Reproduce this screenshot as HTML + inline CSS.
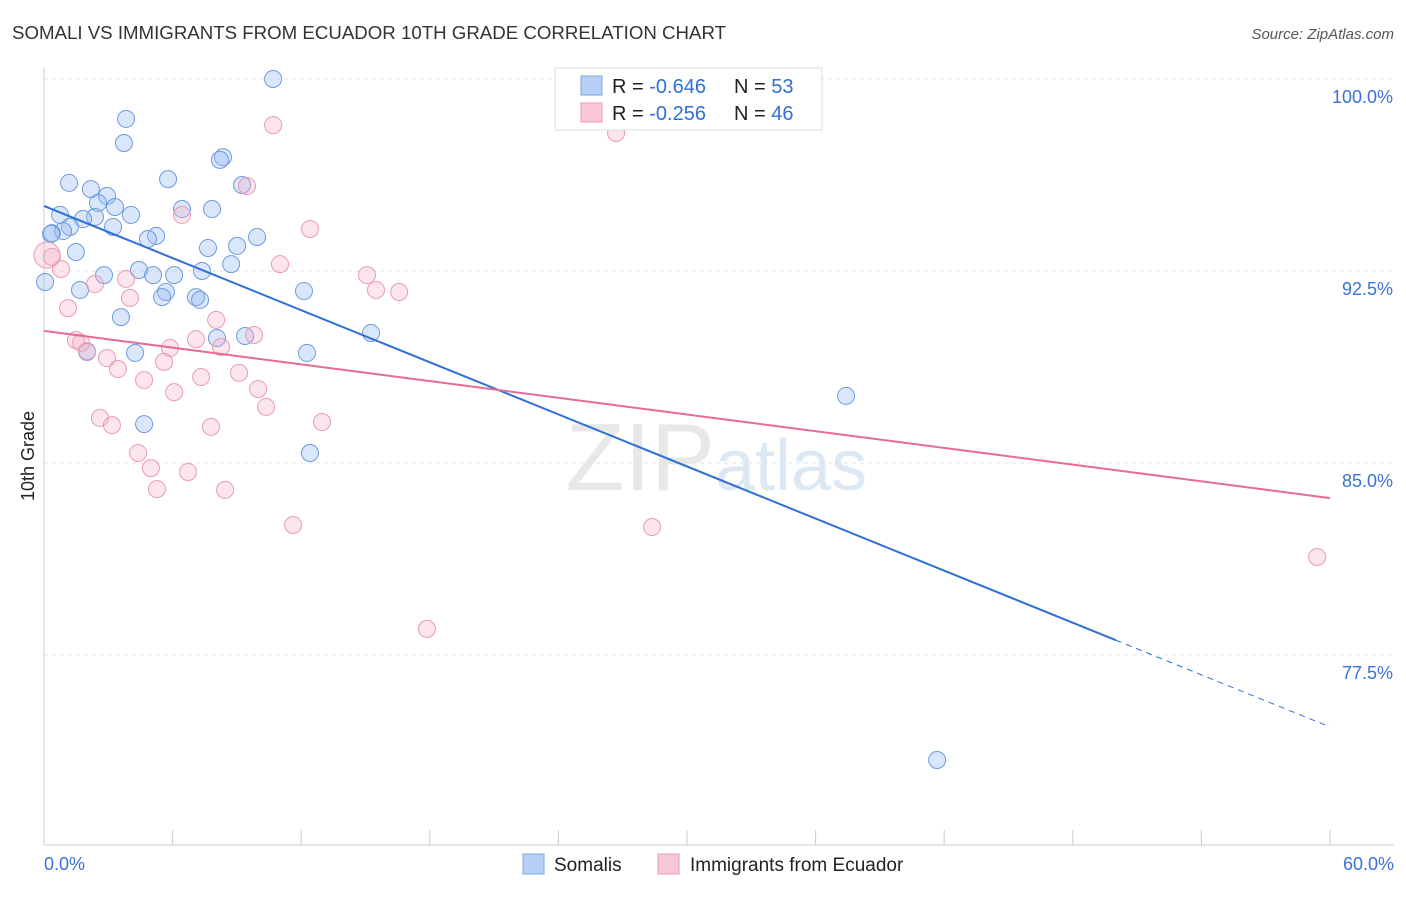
<!DOCTYPE html>
<html><head><meta charset="utf-8"><style>
body{margin:0;background:#fff;font-family:"Liberation Sans",sans-serif;}
svg text{font-family:"Liberation Sans",sans-serif;}
</style></head><body>
<svg id="chart" width="1406" height="892">
<text x="12" y="39" font-size="18" fill="#333" textLength="714" lengthAdjust="spacingAndGlyphs">SOMALI VS IMMIGRANTS FROM ECUADOR 10TH GRADE CORRELATION CHART</text>
<text x="1394" y="39" font-size="15" fill="#555" font-style="italic" text-anchor="end">Source: ZipAtlas.com</text>
<text x="715" y="490" font-size="96" fill="#e8e8e8" text-anchor="end" font-family="Liberation Serif">ZIP</text>
<text x="715" y="490" font-size="72" fill="#dde8f5">atlas</text>
<g id="grid"></g><g id="marks"></g>
<text transform="translate(34,456) rotate(-90)" font-size="18" fill="#222" text-anchor="middle">10th Grade</text>
<g>
<rect x="555" y="68" width="267" height="62" fill="#fff" stroke="#ddd"/>
<rect x="581" y="76" width="21" height="19" fill="#b8d0f5" stroke="#7aa6e8"/>
<text x="612" y="93" font-size="20" fill="#222">R = <tspan fill="#2f6fd6">-0.646</tspan></text>
<text x="734" y="93" font-size="20" fill="#222">N = <tspan fill="#2f6fd6">53</tspan></text>
<rect x="581" y="103" width="21" height="19" fill="#f9c8d6" stroke="#ec9ab4"/>
<text x="612" y="120" font-size="20" fill="#222">R = <tspan fill="#2f6fd6">-0.256</tspan></text>
<text x="734" y="120" font-size="20" fill="#222">N = <tspan fill="#2f6fd6">46</tspan></text>
</g>
<g>
<rect x="523" y="854" width="21" height="20" fill="#b8d0f5" stroke="#7aa6e8"/>
<text x="554" y="871" font-size="19" fill="#222">Somalis</text>
<rect x="658" y="854" width="21" height="20" fill="#f9c8d6" stroke="#ec9ab4"/>
<text x="690" y="871" font-size="19" fill="#222">Immigrants from Ecuador</text>
</g>
</svg>
<script>
const xTicks=[0,6,12,18,24,30,36,42,48,54,60];
const yTicks=[100,92.5,85,77.5];
const yTickLabels=["100.0%","92.5%","85.0%","77.5%"];
const xEndLabels=["0.0%","60.0%"];
const somaliX=[10.69,3.83,3.73,8.35,8.21,5.79,1.17,9.24,2.19,2.94,2.52,3.31,6.44,7.84,0.75,4.06,2.38,1.82,3.22,1.21,0.37,0.89,5.23,4.85,9.94,7.65,9.01,1.49,8.73,4.43,7.37,5.09,6.07,2.80,0.05,1.68,5.69,5.51,7.09,7.28,12.13,3.59,15.26,8.07,9.38,4.25,2.01,12.27,37.42,4.67,12.41,41.67,0.33];
const somaliY=[100.0,98.44,97.5,96.95,96.84,96.09,95.94,95.86,95.70,95.43,95.16,95.0,94.92,94.92,94.69,94.69,94.61,94.53,94.22,94.22,93.98,94.06,93.87,93.75,93.83,93.40,93.48,93.24,92.77,92.54,92.5,92.34,92.34,92.34,92.07,91.76,91.68,91.48,91.48,91.37,91.72,90.70,90.08,89.88,89.96,89.30,89.34,89.30,87.62,86.52,85.39,73.40,93.95];
const ecuadorX=[10.69,26.69,9.47,6.44,12.41,0.37,0.79,11.01,15.07,15.49,16.57,3.83,2.38,4.01,1.12,8.03,9.80,7.09,1.49,1.73,5.88,2.01,8.26,2.94,5.60,3.45,9.10,4.67,7.33,9.99,6.07,10.36,2.61,3.17,12.97,7.79,4.39,4.99,6.72,5.27,8.45,11.62,28.37,59.40,17.87,0.14];
const ecuadorY=[98.20,97.89,95.82,94.69,94.14,93.05,92.58,92.77,92.34,91.76,91.68,92.19,91.99,91.45,91.05,90.59,90.0,89.84,89.80,89.69,89.49,89.37,89.53,89.10,88.95,88.67,88.52,88.24,88.36,87.89,87.77,87.19,86.76,86.48,86.60,86.41,85.39,84.80,84.65,83.98,83.95,82.58,82.50,81.33,78.52,93.12];
const somaliTrend=[95.04,74.69]; const somaliSolidEnd=50;
const ecuadorTrend=[90.16,83.63];
const NS="http://www.w3.org/2000/svg";
const sx=v=>44+v*(1330-44)/60;
const sy=v=>79+(100-v)*25.6;
function mk(p,t,a){const e=document.createElementNS(NS,t);for(const k in a)e.setAttribute(k,a[k]);p.appendChild(e);return e;}
const grid=document.getElementById('grid'),marks=document.getElementById('marks');
mk(grid,'line',{x1:44,y1:68,x2:44,y2:845,stroke:'#ccc'});
mk(grid,'line',{x1:44,y1:845,x2:1394,y2:845,stroke:'#ccc'});
yTicks.forEach((v,i)=>{
 const l=mk(grid,'line',{x1:44,x2:1394,y1:sy(v),y2:sy(v),stroke:'#e2e2e2','stroke-dasharray':'4,4'});
 
 
 const t=mk(grid,'text',{x:1393,y:sy(v)+24,'font-size':18,fill:'#3a72d8','text-anchor':'end'});t.textContent=yTickLabels[i];
 
 
});
xTicks.forEach(v=>{const l=mk(grid,'line',{x1:sx(v),x2:sx(v),y1:830,y2:845,stroke:'#ccc'});
 
 });
[[0,'start',44],[60,'end',1394]].forEach((d,i)=>{const t=mk(grid,'text',{x:d[2],y:870,'font-size':18,fill:'#3a72d8','text-anchor':d[1]});t.textContent=xEndLabels[i];
 
 });
function pts(X,Y,fill,stroke,name){X.forEach((x,i)=>{const c=mk(marks,'circle',{cx:sx(x),cy:sy(Y[i]),r:(name==='ecuador-point'&&i===X.length-1)?13:8.5,fill:fill,stroke:stroke,'stroke-width':1});
 
 });}
pts(somaliX,somaliY,'rgba(150,185,240,0.35)','#6d9ae0','somali-point');
pts(ecuadorX,ecuadorY,'rgba(245,170,195,0.3)','#eb9ab6','ecuador-point');
const lin=(a,x)=>a[0]+(a[1]-a[0])*x/60;
let l1=mk(marks,'line',{x1:sx(0),y1:sy(somaliTrend[0]),x2:sx(somaliSolidEnd),y2:sy(lin(somaliTrend,somaliSolidEnd)),stroke:'#2f6fd6','stroke-width':2});


let l2=mk(marks,'line',{x1:sx(somaliSolidEnd),y1:sy(lin(somaliTrend,somaliSolidEnd)),x2:sx(60),y2:sy(somaliTrend[1]),stroke:'#2f6fd6','stroke-width':1,'stroke-dasharray':'6,5'});


let l3=mk(marks,'line',{x1:sx(0),y1:sy(ecuadorTrend[0]),x2:sx(60),y2:sy(ecuadorTrend[1]),stroke:'#e86b96','stroke-width':2});


</script>
</body></html>
